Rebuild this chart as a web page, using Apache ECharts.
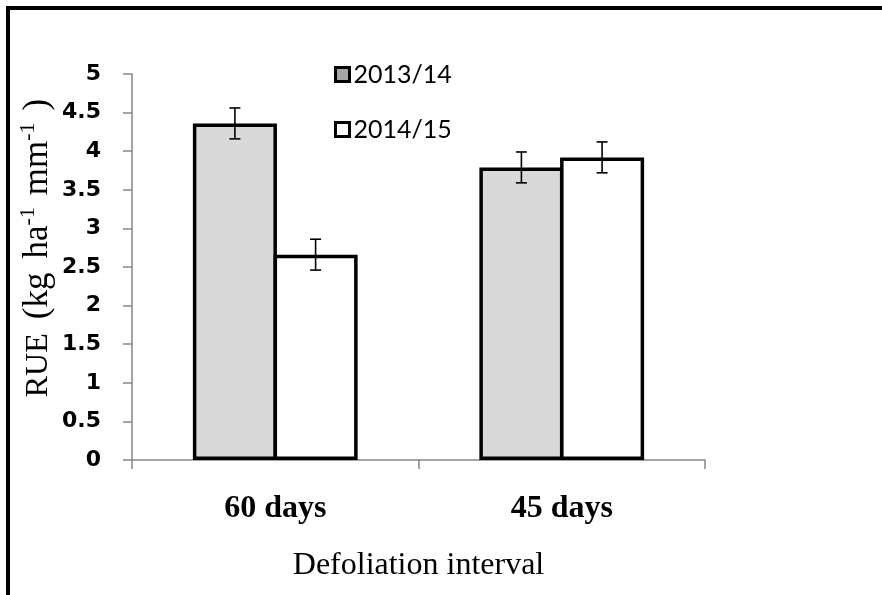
<!DOCTYPE html>
<html>
<head>
<meta charset="utf-8">
<script src="https://cdn.jsdelivr.net/npm/echarts@6/dist/echarts.min.js"></script>
<style>html,body{margin:0;padding:0;background:#fff}#c{width:882px;height:595px}</style>
</head>
<body>
<div id="c"></div>
<script>
const categories = ['60 days', '45 days'];
const seriesNames = ['2013/14', '2014/15'];
const rue2013 = [4.36, 3.79];
const rue2014 = [2.66, 3.92];
const err2013 = [0.2, 0.2];
const err2014 = [0.2, 0.2];
const yTicks = { min: 0, max: 5, interval: 0.5 };
const xTitle = 'Defoliation interval';

const chart = echarts.init(document.getElementById('c'), null, { renderer: 'canvas' });
const catGap = 0.425;
const barGapFrac = -0.04;

function errSeries(values, errs, idx) {
  return {
    type: 'custom',
    name: 'err' + idx,
    z: 10,
    silent: true,
    data: values.map((v, i) => [i, v, errs[i]]),
    renderItem: function (params, api) {
      const ci = api.value(0), v = api.value(1), e = api.value(2);
      const cw = api.size([1, 0])[0];
      const bw = cw * (1 - catGap) / (2 + barGapFrac);
      const off = (1 + barGapFrac) * bw / 2;
      const c = api.coord([ci, v]);
      const x = c[0] + (idx === 0 ? -off : off);
      const top = api.coord([ci, v + e])[1];
      const bot = api.coord([ci, v - e])[1];
      const cap = 5.5;
      const st = { stroke: '#000', lineWidth: 1.6 };
      return { type: 'group', children: [
        { type: 'line', shape: { x1: x, y1: top, x2: x, y2: bot }, style: st },
        { type: 'line', shape: { x1: x - cap, y1: top, x2: x + cap, y2: top }, style: st },
        { type: 'line', shape: { x1: x - cap, y1: bot, x2: x + cap, y2: bot }, style: st }
      ]};
    }
  };
}

chart.setOption({
  backgroundColor: '#fff',
  animation: false,
  graphic: [{
    type: 'rect', shape: { x: 8, y: 8, width: 920, height: 640 },
    style: { fill: 'none', stroke: '#000', lineWidth: 4 }, z: 100
  }, {
    type: 'text', x: 36, y: 248, rotation: Math.PI / 2, z: 100,
    style: {
      text: '{r|RUE}{g|(kg}{w|ha}{s|-1}{w|mm}{s|-1}{n|)}',
      align: 'center', verticalAlign: 'middle',
      rich: {
        r: { fontFamily: 'Liberation Serif', fontSize: 32, fill: '#000', verticalAlign: 'bottom', lineHeight: 38, padding: [0, 14, 0, 0] },
        g: { fontFamily: 'Liberation Serif', fontSize: 35, fill: '#000', verticalAlign: 'bottom', lineHeight: 38, padding: [0, 14, 0, 0] },
        w: { fontFamily: 'Liberation Serif', fontSize: 35, fill: '#000', verticalAlign: 'bottom', lineHeight: 38 },
        n: { fontFamily: 'Liberation Serif', fontSize: 35, fill: '#000', verticalAlign: 'bottom', lineHeight: 38 },
        s: { fontFamily: 'Liberation Serif', fontSize: 22, fill: '#000', verticalAlign: 'top', lineHeight: 38, padding: [0, 12, 0, 0] }
      }
    }
  }],
  legend: {
    orient: 'vertical', left: 329, top: 57, itemGap: 30,
    itemWidth: 14, itemHeight: 14, icon: 'rect',
    textStyle: { fontFamily: 'Lato', fontSize: 25, color: '#000', padding: [0, 0, 0, -1] },
    data: [
      { name: seriesNames[0], itemStyle: { color: '#a6a6a6', borderColor: '#000', borderWidth: 3 } },
      { name: seriesNames[1], itemStyle: { color: '#fff', borderColor: '#000', borderWidth: 3 } }
    ]
  },
  grid: { left: 132, right: 177, top: 74, bottom: 135, containLabel: false },
  xAxis: {
    type: 'category', data: categories,
    axisLine: { lineStyle: { color: '#868686', width: 1.5 } },
    axisTick: { show: true, length: 9, alignWithLabel: false, lineStyle: { color: '#868686', width: 1.5 } },
    axisLabel: { margin: 33, fontFamily: 'Liberation Serif', fontWeight: 'bold', fontSize: 32, color: '#000' },
    name: xTitle, nameLocation: 'middle', nameGap: 90,
    nameTextStyle: { fontFamily: 'Liberation Serif', fontSize: 32, color: '#000' }
  },
  yAxis: {
    type: 'value', min: yTicks.min, max: yTicks.max, interval: yTicks.interval,
    splitLine: { show: false },
    axisLine: { show: true, lineStyle: { color: '#868686', width: 1.5 } },
    axisTick: { show: true, length: 9, lineStyle: { color: '#868686', width: 1.5 } },
    axisLabel: { margin: 31, fontFamily: 'DejaVu Sans', fontWeight: 'bold', fontSize: 22, color: '#000' }
  },
  series: [
    { type: 'bar', name: seriesNames[0], data: rue2013, barGap: (barGapFrac * 100) + '%', barCategoryGap: (catGap * 100) + '%',
      itemStyle: { color: '#d9d9d9', borderColor: '#000', borderWidth: 3.5 } },
    { type: 'bar', name: seriesNames[1], data: rue2014, barGap: (barGapFrac * 100) + '%', barCategoryGap: (catGap * 100) + '%',
      itemStyle: { color: '#fff', borderColor: '#000', borderWidth: 3.5 } },
    errSeries(rue2013, err2013, 0),
    errSeries(rue2014, err2014, 1)
  ]
});
</script>
</body>
</html>
